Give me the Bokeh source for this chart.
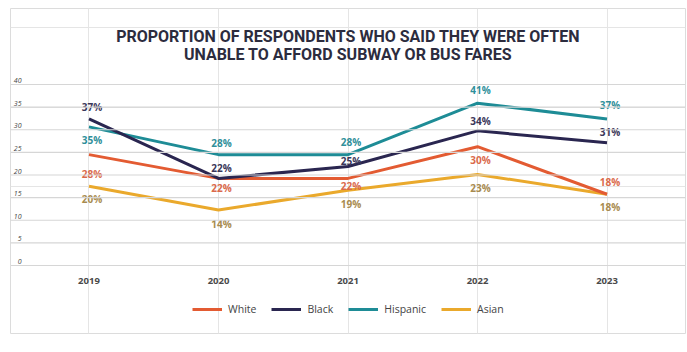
from bokeh.plotting import figure
from bokeh.models import (ColumnDataSource, FixedTicker, LinearAxis, Span,
                          Legend, LegendItem, Label)
from bokeh.embed import file_html
from bokeh.resources import INLINE
from bokeh.core.properties import value

# ---------------- data ----------------
years = [2019, 2020, 2021, 2022, 2023]
white = [28, 22, 22, 30, 18]
black = [37, 22, 25, 34, 31]
hispanic = [35, 28, 28, 41, 37]
asian = [20, 14, 19, 23, 18]
series_names = ["White", "Black", "Hispanic", "Asian"]
y_tick_labels = ["0", "5", "10", "15", "20", "25", "30", "35", "40"]
title_lines = ["PROPORTION OF RESPONDENTS WHO SAID THEY WERE OFTEN",
               "UNABLE TO AFFORD SUBWAY OR BUS FARES"]
source_note = "Source: CSS analysis of Unheard Third Survey data, 2019 to 2023"

# In the source graphic the axis labels sit at 7/8 of the plotted scale
AXIS_SCALE = 8 / 7

# ---------------- styles ----------------
line_colors = {"White": "#e35b32", "Black": "#2a2650",
               "Hispanic": "#1e8c96", "Asian": "#eaa92c"}
label_colors = {"White": "#da6a4b", "Black": "#3a3658",
                "Hispanic": "#2f8f9a", "Asian": "#a88b4f"}
# label placement offsets in screen pixels (positive = down)
label_offsets = {
    "White": [19, 10, 8, 13, -12],
    "Black": [-12, -10, -6, -10, -11],
    "Hispanic": [13, -12, -13, -13, -14],
    "Asian": [13, 14, 14, 14, 13],
}
values = {"White": white, "Black": black, "Hispanic": hispanic, "Asian": asian}

p = figure(width=687, height=352, output_backend="svg", toolbar_location=None,
           x_range=(2018.394, 2023.606), y_range=(-17.17, 64.90),
           x_axis_location=None, y_axis_location=None,
           min_border_left=10, min_border_right=2, min_border_top=8,
           min_border_bottom=19)
p.background_fill_color = "white"
p.border_fill_color = "white"
p.outline_line_color = "#dcdcdc"
p.outline_line_width = 1

grid_pos = [int(t) * AXIS_SCALE for t in y_tick_labels]
label_pos = [g + 1.0 for g in grid_pos]

for g in grid_pos:
    p.add_layout(Span(location=g, dimension="width", line_color="#d6d6d6",
                      line_width=1.2, level="glyph"))

yaxis = LinearAxis(ticker=FixedTicker(ticks=label_pos), fixed_location=2018.479,
                   major_label_overrides={lp: t for lp, t in zip(label_pos, y_tick_labels)},
                   axis_line_color=None, major_tick_line_color=None,
                   minor_tick_line_color=None, major_tick_out=0, major_tick_in=0,
                   major_label_standoff=0,
                   major_label_text_font="Open Sans",
                   major_label_text_font_style="italic",
                   major_label_text_font_size="7px",
                   major_label_text_color="#444444")
p.add_layout(yaxis, "left")

xaxis = LinearAxis(ticker=FixedTicker(ticks=years), fixed_location=0,
                   axis_line_color=None, major_tick_line_color=None,
                   minor_tick_line_color=None, major_tick_out=0, major_tick_in=0,
                   major_label_standoff=12,
                   major_label_text_font="Open Sans",
                   major_label_text_font_style="bold",
                   major_label_text_font_size="9.5px",
                   major_label_text_color="#4a4a4a")
p.add_layout(xaxis, "below")

renderers = {}
for name in ["Asian", "White", "Hispanic", "Black"]:
    renderers[name] = p.line(years, values[name], line_color=line_colors[name],
                             line_width=3, line_join="round")

for name in series_names:
    src = ColumnDataSource(dict(x=years, y=values[name],
                                text=[f"{v}%" for v in values[name]],
                                yo=label_offsets[name]))
    p.text(x="x", y="y", text="text", source=src, y_offset="yo", x_offset=3,
           text_align="center", text_baseline="middle",
           text_font=value("Open Sans"), text_font_style="bold",
           text_font_size="10px", text_color=label_colors[name])

for line, yv in zip(title_lines, [57.8, 53.4]):
    p.add_layout(Label(x=2021, y=yv, text=line, text_align="center",
                       text_baseline="middle", text_font="Roboto",
                       text_font_style="bold", text_font_size="16px",
                       text_color="#2c2c3e"))

p.add_layout(Label(x=2023.614, y=-18.43, text=source_note, text_align="right",
                   text_baseline="middle", text_font="Open Sans",
                   text_font_size="9.5px", text_color="#555555"))

legend = Legend(items=[LegendItem(label=n, renderers=[renderers[n]]) for n in series_names],
                orientation="horizontal", location=(182, 17),
                glyph_width=30, glyph_height=12, label_height=12,
                label_standoff=6, spacing=15, padding=0, margin=0,
                border_line_color=None, background_fill_alpha=0,
                label_text_font="Open Sans", label_text_font_size="10.5px",
                label_text_color="#444444")
p.add_layout(legend)

open("out.html", "w").write(file_html(p, INLINE))
